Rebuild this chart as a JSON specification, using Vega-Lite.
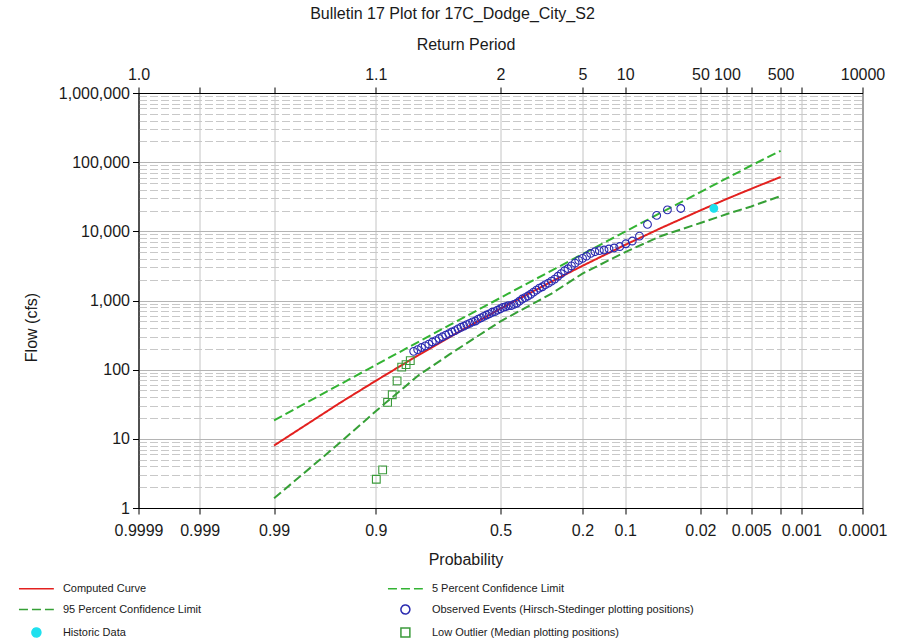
{
  "$schema": "https://vega.github.io/schema/vega-lite/v6.json",
  "width": 724,
  "height": 415,
  "padding": {"left": 22.5, "top": 6, "right": 5, "bottom": 0},
  "config": {
    "font": "Liberation Sans",
    "view": {"stroke": "#000", "strokeWidth": 1},
    "axis": {"labelFont": "Liberation Sans", "titleFont": "Liberation Sans"},
    "legend": {"symbolOpacity": 1, "symbolStrokeWidth": 1.5}
  },
  "title": {"text": "Bulletin 17 Plot for 17C_Dodge_City_S2", "fontSize": 16, "fontWeight": "normal", "color": "#1a1a1a", "offset": 14, "frame": "group", "anchor": "middle", "dx": -48},
  "data": {
    "values": [
      {"series": "Computed Curve", "prob": 0.99, "flow": 8.0},
      {"series": "Computed Curve", "prob": 0.95, "flow": 33.4},
      {"series": "Computed Curve", "prob": 0.9, "flow": 69},
      {"series": "Computed Curve", "prob": 0.8, "flow": 163},
      {"series": "Computed Curve", "prob": 0.7, "flow": 295},
      {"series": "Computed Curve", "prob": 0.5, "flow": 762},
      {"series": "Computed Curve", "prob": 0.3, "flow": 1879},
      {"series": "Computed Curve", "prob": 0.2, "flow": 3170},
      {"series": "Computed Curve", "prob": 0.1, "flow": 6380},
      {"series": "Computed Curve", "prob": 0.05, "flow": 11090},
      {"series": "Computed Curve", "prob": 0.02, "flow": 20100},
      {"series": "Computed Curve", "prob": 0.01, "flow": 29500},
      {"series": "Computed Curve", "prob": 0.005, "flow": 41200},
      {"series": "Computed Curve", "prob": 0.002, "flow": 61200},
      {"series": "5 Percent Confidence Limit", "prob": 0.99, "flow": 18.5},
      {"series": "5 Percent Confidence Limit", "prob": 0.95, "flow": 61.7},
      {"series": "5 Percent Confidence Limit", "prob": 0.9, "flow": 117},
      {"series": "5 Percent Confidence Limit", "prob": 0.8, "flow": 253},
      {"series": "5 Percent Confidence Limit", "prob": 0.7, "flow": 440},
      {"series": "5 Percent Confidence Limit", "prob": 0.5, "flow": 1094},
      {"series": "5 Percent Confidence Limit", "prob": 0.3, "flow": 2710},
      {"series": "5 Percent Confidence Limit", "prob": 0.2, "flow": 4670},
      {"series": "5 Percent Confidence Limit", "prob": 0.1, "flow": 9930},
      {"series": "5 Percent Confidence Limit", "prob": 0.05, "flow": 18500},
      {"series": "5 Percent Confidence Limit", "prob": 0.02, "flow": 37000},
      {"series": "5 Percent Confidence Limit", "prob": 0.01, "flow": 58700},
      {"series": "5 Percent Confidence Limit", "prob": 0.005, "flow": 89500},
      {"series": "5 Percent Confidence Limit", "prob": 0.002, "flow": 146000},
      {"series": "95 Percent Confidence Limit", "prob": 0.99, "flow": 1.38},
      {"series": "95 Percent Confidence Limit", "prob": 0.95, "flow": 8.9},
      {"series": "95 Percent Confidence Limit", "prob": 0.9, "flow": 25.1},
      {"series": "95 Percent Confidence Limit", "prob": 0.8, "flow": 83},
      {"series": "95 Percent Confidence Limit", "prob": 0.7, "flow": 166},
      {"series": "95 Percent Confidence Limit", "prob": 0.5, "flow": 500},
      {"series": "95 Percent Confidence Limit", "prob": 0.3, "flow": 1259},
      {"series": "95 Percent Confidence Limit", "prob": 0.2, "flow": 2450},
      {"series": "95 Percent Confidence Limit", "prob": 0.1, "flow": 5012},
      {"series": "95 Percent Confidence Limit", "prob": 0.05, "flow": 8511},
      {"series": "95 Percent Confidence Limit", "prob": 0.02, "flow": 13183},
      {"series": "95 Percent Confidence Limit", "prob": 0.01, "flow": 17783},
      {"series": "95 Percent Confidence Limit", "prob": 0.005, "flow": 22909},
      {"series": "95 Percent Confidence Limit", "prob": 0.002, "flow": 32359},
      {"series": "Observed Events (Hirsch-Stedinger plotting positions)", "prob": 0.0320, "flow": 21400},
      {"series": "Observed Events (Hirsch-Stedinger plotting positions)", "prob": 0.0432, "flow": 20400},
      {"series": "Observed Events (Hirsch-Stedinger plotting positions)", "prob": 0.0543, "flow": 17000},
      {"series": "Observed Events (Hirsch-Stedinger plotting positions)", "prob": 0.0655, "flow": 12600},
      {"series": "Observed Events (Hirsch-Stedinger plotting positions)", "prob": 0.0767, "flow": 8510},
      {"series": "Observed Events (Hirsch-Stedinger plotting positions)", "prob": 0.0879, "flow": 7240},
      {"series": "Observed Events (Hirsch-Stedinger plotting positions)", "prob": 0.0990, "flow": 6610},
      {"series": "Observed Events (Hirsch-Stedinger plotting positions)", "prob": 0.1102, "flow": 6030},
      {"series": "Observed Events (Hirsch-Stedinger plotting positions)", "prob": 0.1214, "flow": 5750},
      {"series": "Observed Events (Hirsch-Stedinger plotting positions)", "prob": 0.1325, "flow": 5560},
      {"series": "Observed Events (Hirsch-Stedinger plotting positions)", "prob": 0.1437, "flow": 5370},
      {"series": "Observed Events (Hirsch-Stedinger plotting positions)", "prob": 0.1549, "flow": 5250},
      {"series": "Observed Events (Hirsch-Stedinger plotting positions)", "prob": 0.1660, "flow": 5070},
      {"series": "Observed Events (Hirsch-Stedinger plotting positions)", "prob": 0.1772, "flow": 4790},
      {"series": "Observed Events (Hirsch-Stedinger plotting positions)", "prob": 0.1884, "flow": 4370},
      {"series": "Observed Events (Hirsch-Stedinger plotting positions)", "prob": 0.1996, "flow": 4070},
      {"series": "Observed Events (Hirsch-Stedinger plotting positions)", "prob": 0.2107, "flow": 3800},
      {"series": "Observed Events (Hirsch-Stedinger plotting positions)", "prob": 0.2219, "flow": 3470},
      {"series": "Observed Events (Hirsch-Stedinger plotting positions)", "prob": 0.2331, "flow": 3160},
      {"series": "Observed Events (Hirsch-Stedinger plotting positions)", "prob": 0.2442, "flow": 2880},
      {"series": "Observed Events (Hirsch-Stedinger plotting positions)", "prob": 0.2554, "flow": 2690},
      {"series": "Observed Events (Hirsch-Stedinger plotting positions)", "prob": 0.2666, "flow": 2450},
      {"series": "Observed Events (Hirsch-Stedinger plotting positions)", "prob": 0.2777, "flow": 2240},
      {"series": "Observed Events (Hirsch-Stedinger plotting positions)", "prob": 0.2889, "flow": 2040},
      {"series": "Observed Events (Hirsch-Stedinger plotting positions)", "prob": 0.3001, "flow": 1910},
      {"series": "Observed Events (Hirsch-Stedinger plotting positions)", "prob": 0.3113, "flow": 1780},
      {"series": "Observed Events (Hirsch-Stedinger plotting positions)", "prob": 0.3224, "flow": 1700},
      {"series": "Observed Events (Hirsch-Stedinger plotting positions)", "prob": 0.3336, "flow": 1580},
      {"series": "Observed Events (Hirsch-Stedinger plotting positions)", "prob": 0.3448, "flow": 1510},
      {"series": "Observed Events (Hirsch-Stedinger plotting positions)", "prob": 0.3559, "flow": 1410},
      {"series": "Observed Events (Hirsch-Stedinger plotting positions)", "prob": 0.3671, "flow": 1320},
      {"series": "Observed Events (Hirsch-Stedinger plotting positions)", "prob": 0.3783, "flow": 1230},
      {"series": "Observed Events (Hirsch-Stedinger plotting positions)", "prob": 0.3894, "flow": 1160},
      {"series": "Observed Events (Hirsch-Stedinger plotting positions)", "prob": 0.4006, "flow": 1100},
      {"series": "Observed Events (Hirsch-Stedinger plotting positions)", "prob": 0.4118, "flow": 1050},
      {"series": "Observed Events (Hirsch-Stedinger plotting positions)", "prob": 0.4229, "flow": 977},
      {"series": "Observed Events (Hirsch-Stedinger plotting positions)", "prob": 0.4341, "flow": 912},
      {"series": "Observed Events (Hirsch-Stedinger plotting positions)", "prob": 0.4453, "flow": 880},
      {"series": "Observed Events (Hirsch-Stedinger plotting positions)", "prob": 0.4565, "flow": 845},
      {"series": "Observed Events (Hirsch-Stedinger plotting positions)", "prob": 0.4676, "flow": 840},
      {"series": "Observed Events (Hirsch-Stedinger plotting positions)", "prob": 0.4788, "flow": 813},
      {"series": "Observed Events (Hirsch-Stedinger plotting positions)", "prob": 0.4900, "flow": 794},
      {"series": "Observed Events (Hirsch-Stedinger plotting positions)", "prob": 0.5011, "flow": 759},
      {"series": "Observed Events (Hirsch-Stedinger plotting positions)", "prob": 0.5123, "flow": 724},
      {"series": "Observed Events (Hirsch-Stedinger plotting positions)", "prob": 0.5235, "flow": 692},
      {"series": "Observed Events (Hirsch-Stedinger plotting positions)", "prob": 0.5346, "flow": 676},
      {"series": "Observed Events (Hirsch-Stedinger plotting positions)", "prob": 0.5458, "flow": 640},
      {"series": "Observed Events (Hirsch-Stedinger plotting positions)", "prob": 0.5570, "flow": 617},
      {"series": "Observed Events (Hirsch-Stedinger plotting positions)", "prob": 0.5681, "flow": 589},
      {"series": "Observed Events (Hirsch-Stedinger plotting positions)", "prob": 0.5793, "flow": 562},
      {"series": "Observed Events (Hirsch-Stedinger plotting positions)", "prob": 0.5905, "flow": 537},
      {"series": "Observed Events (Hirsch-Stedinger plotting positions)", "prob": 0.6017, "flow": 505},
      {"series": "Observed Events (Hirsch-Stedinger plotting positions)", "prob": 0.6128, "flow": 490},
      {"series": "Observed Events (Hirsch-Stedinger plotting positions)", "prob": 0.6240, "flow": 468},
      {"series": "Observed Events (Hirsch-Stedinger plotting positions)", "prob": 0.6352, "flow": 447},
      {"series": "Observed Events (Hirsch-Stedinger plotting positions)", "prob": 0.6463, "flow": 427},
      {"series": "Observed Events (Hirsch-Stedinger plotting positions)", "prob": 0.6575, "flow": 410},
      {"series": "Observed Events (Hirsch-Stedinger plotting positions)", "prob": 0.6687, "flow": 389},
      {"series": "Observed Events (Hirsch-Stedinger plotting positions)", "prob": 0.6798, "flow": 367},
      {"series": "Observed Events (Hirsch-Stedinger plotting positions)", "prob": 0.6910, "flow": 351},
      {"series": "Observed Events (Hirsch-Stedinger plotting positions)", "prob": 0.7022, "flow": 331},
      {"series": "Observed Events (Hirsch-Stedinger plotting positions)", "prob": 0.7133, "flow": 316},
      {"series": "Observed Events (Hirsch-Stedinger plotting positions)", "prob": 0.7245, "flow": 299},
      {"series": "Observed Events (Hirsch-Stedinger plotting positions)", "prob": 0.7357, "flow": 282},
      {"series": "Observed Events (Hirsch-Stedinger plotting positions)", "prob": 0.7468, "flow": 263},
      {"series": "Observed Events (Hirsch-Stedinger plotting positions)", "prob": 0.7580, "flow": 251},
      {"series": "Observed Events (Hirsch-Stedinger plotting positions)", "prob": 0.7692, "flow": 234},
      {"series": "Observed Events (Hirsch-Stedinger plotting positions)", "prob": 0.7803, "flow": 221},
      {"series": "Observed Events (Hirsch-Stedinger plotting positions)", "prob": 0.7915, "flow": 209},
      {"series": "Observed Events (Hirsch-Stedinger plotting positions)", "prob": 0.8027, "flow": 195},
      {"series": "Observed Events (Hirsch-Stedinger plotting positions)", "prob": 0.8138, "flow": 184},
      {"series": "Low Outlier (Median plotting positions)", "prob": 0.823, "flow": 135},
      {"series": "Low Outlier (Median plotting positions)", "prob": 0.834, "flow": 118},
      {"series": "Low Outlier (Median plotting positions)", "prob": 0.845, "flow": 109},
      {"series": "Low Outlier (Median plotting positions)", "prob": 0.856, "flow": 69},
      {"series": "Low Outlier (Median plotting positions)", "prob": 0.867, "flow": 43.4},
      {"series": "Low Outlier (Median plotting positions)", "prob": 0.877, "flow": 33.6},
      {"series": "Low Outlier (Median plotting positions)", "prob": 0.887, "flow": 3.55},
      {"series": "Low Outlier (Median plotting positions)", "prob": 0.899, "flow": 2.6},
      {"series": "Historic Data", "prob": 0.0142, "flow": 21500}
    ]
  },
  "transform": [{"calculate": "quantileNormal(1 - datum.prob)", "as": "z"}],
  "encoding": {
    "y": {
      "field": "flow", "type": "quantitative",
      "scale": {"type": "log", "domain": [1, 1000000], "nice": false},
      "axis": {
        "values": [1,2,3,4,5,6,7,8,9,10,20,30,40,50,60,70,80,90,100,200,300,400,500,600,700,800,900,1000,2000,3000,4000,5000,6000,7000,8000,9000,10000,20000,30000,40000,50000,60000,70000,80000,90000,100000,200000,300000,400000,500000,600000,700000,800000,900000,1000000],
        "labelExpr": "abs(log(datum.value)/LN10 - round(log(datum.value)/LN10)) < 0.001 ? format(datum.value, ',') : ''",
        "title": "Flow (cfs)", "titleFontSize": 16, "titleFontWeight": "normal", "titleColor": "#1a1a1a",
        "titlePadding": 19, "titleY": 234,
        "labelFontSize": 16, "labelColor": "#1a1a1a", "labelPadding": 3, "labelFlush": false, "labelOverlap": false,
        "tickSize": 6, "tickColor": "#000", "domainColor": "#000",
        "tickOpacity": {"condition": {"test": "abs(log(datum.value)/LN10 - round(log(datum.value)/LN10)) < 0.001", "value": 1}, "value": 0},
        "grid": true,
        "gridColor": {"condition": {"test": "abs(log(datum.value)/LN10 - round(log(datum.value)/LN10)) < 0.001", "value": "#b4b4b4"}, "value": "#c8c8c8"},
        "gridDash": {"condition": {"test": "abs(log(datum.value)/LN10 - round(log(datum.value)/LN10)) < 0.001", "value": []}, "value": [8, 3]}
      }
    }
  },
  "layer": [
    {
      "transform": [{"filter": "indexof(datum.series, 'Curve') >= 0 || indexof(datum.series, 'Confidence') >= 0"}],
      "mark": {"type": "line", "strokeWidth": 2},
      "encoding": {
        "x": {
          "field": "z", "type": "quantitative",
          "scale": {"domain": [-3.7191, 3.7191], "nice": false, "zero": false},
          "axis": {
            "orient": "bottom",
            "values": [-3.719, -3.0902, -2.3263, -1.2816, 0, 0.8416, 1.2816, 2.0537, 2.3263, 2.5758, 2.8782, 3.0902, 3.719],
            "labelExpr": "datum.value < -3.5 ? '0.9999' : datum.value < -3 ? '0.999' : datum.value < -2 ? '0.99' : datum.value < -1 ? '0.9' : datum.value < 0.5 ? '0.5' : datum.value < 1 ? '0.2' : datum.value < 1.5 ? '0.1' : datum.value < 2.2 ? '0.02' : datum.value < 2.45 ? '' : datum.value < 2.7 ? '0.005' : datum.value < 3 ? '' : datum.value < 3.5 ? '0.001' : '0.0001'",
            "title": "Probability", "titleFontSize": 16, "titleFontWeight": "normal", "titleColor": "#1a1a1a",
            "titlePadding": 13, "titleX": 327,
            "labelFontSize": 16, "labelColor": "#1a1a1a", "labelPadding": 8, "labelFlush": false, "labelOverlap": false,
            "tickSize": 6, "tickColor": "#000", "domainColor": "#000",
            "grid": true, "gridColor": "#c4c4c4"
          }
        },
        "stroke": {
          "field": "series", "type": "nominal",
          "scale": {
            "domain": ["Computed Curve", "5 Percent Confidence Limit", "95 Percent Confidence Limit", "Observed Events (Hirsch-Stedinger plotting positions)", "Historic Data", "Low Outlier (Median plotting positions)"],
            "range": ["#e3211f", "#33b333", "#36a036", "#2b2bb0", "#1fe0ee", "#3a9a3a"]
          },
          "legend": {
            "title": null, "orient": "none", "direction": "horizontal", "legendX": -107.6, "legendY": 490, "columns": 2,
            "columnPadding": 183, "rowPadding": 8, "padding": 0,
            "symbolSize": 80, "labelOffset": 21, "labelFontSize": 11, "labelColor": "#1a1a1a", "labelLimit": 400
          }
        },
        "strokeDash": {
          "field": "series", "type": "nominal",
          "scale": {
            "domain": ["Computed Curve", "5 Percent Confidence Limit", "95 Percent Confidence Limit", "Observed Events (Hirsch-Stedinger plotting positions)", "Historic Data", "Low Outlier (Median plotting positions)"],
            "range": [[1, 0], [9, 4], [9, 4], [1, 0], [1, 0], [1, 0]]
          },
          "legend": {
            "title": null, "orient": "none", "direction": "horizontal", "legendX": -107.6, "legendY": 490, "columns": 2,
            "columnPadding": 183, "rowPadding": 8, "padding": 0,
            "symbolSize": 80, "labelOffset": 21, "labelFontSize": 11, "labelColor": "#1a1a1a", "labelLimit": 400
          }
        }
      }
    },
    {
      "transform": [{"filter": "!(indexof(datum.series, 'Curve') >= 0 || indexof(datum.series, 'Confidence') >= 0)"}],
      "mark": {"type": "point", "size": 60, "strokeWidth": 1.1, "opacity": 1},
      "encoding": {
        "x": {
          "field": "z", "type": "quantitative",
          "axis": {
            "orient": "top",
            "values": [-3.719, -3.0902, -2.3263, -1.2816, 0, 0.8416, 1.2816, 2.0537, 2.3263, 2.5758, 2.8782, 3.0902, 3.719],
            "labelExpr": "datum.value < -3.5 ? '1.0' : datum.value < -1.5 ? '' : datum.value < -1 ? '1.1' : datum.value < 0.5 ? '2' : datum.value < 1 ? '5' : datum.value < 1.5 ? '10' : datum.value < 2.2 ? '50' : datum.value < 2.45 ? '100' : datum.value < 2.7 ? '' : datum.value < 3 ? '500' : datum.value < 3.5 ? '' : '10000'",
            "title": "Return Period", "titleFontSize": 16, "titleFontWeight": "normal", "titleColor": "#1a1a1a",
            "titlePadding": 14, "titleX": 327,
            "labelFontSize": 16, "labelColor": "#1a1a1a", "labelPadding": 5, "labelFlush": false, "labelOverlap": false,
            "tickSize": 6, "tickColor": "#000", "domainColor": "#000",
            "grid": false
          }
        },
        "stroke": {"field": "series", "type": "nominal"},
        "fill": {
          "field": "series", "type": "nominal",
          "scale": {
            "domain": ["Computed Curve", "5 Percent Confidence Limit", "95 Percent Confidence Limit", "Observed Events (Hirsch-Stedinger plotting positions)", "Historic Data", "Low Outlier (Median plotting positions)"],
            "range": ["transparent", "transparent", "transparent", "transparent", "#1fe0ee", "transparent"]
          },
          "legend": {
            "title": null, "orient": "none", "direction": "horizontal", "legendX": -107.6, "legendY": 490, "columns": 2,
            "columnPadding": 183, "rowPadding": 8, "padding": 0,
            "symbolSize": 80, "labelOffset": 21, "labelFontSize": 11, "labelColor": "#1a1a1a", "labelLimit": 400
          }
        },
        "shape": {
          "field": "series", "type": "nominal",
          "scale": {
            "domain": ["Computed Curve", "5 Percent Confidence Limit", "95 Percent Confidence Limit", "Observed Events (Hirsch-Stedinger plotting positions)", "Historic Data", "Low Outlier (Median plotting positions)"],
            "range": ["M-3.9,0H3.9", "M-3.9,0H3.9", "M-3.9,0H3.9", "circle", "circle", "square"]
          },
          "legend": {
            "title": null, "orient": "none", "direction": "horizontal", "legendX": -107.6, "legendY": 490, "columns": 2,
            "columnPadding": 183, "rowPadding": 8, "padding": 0,
            "symbolSize": 80, "labelOffset": 21, "labelFontSize": 11, "labelColor": "#1a1a1a", "labelLimit": 400
          }
        }
      }
    }
  ],
  "resolve": {"axis": {"x": "independent"}}
}
